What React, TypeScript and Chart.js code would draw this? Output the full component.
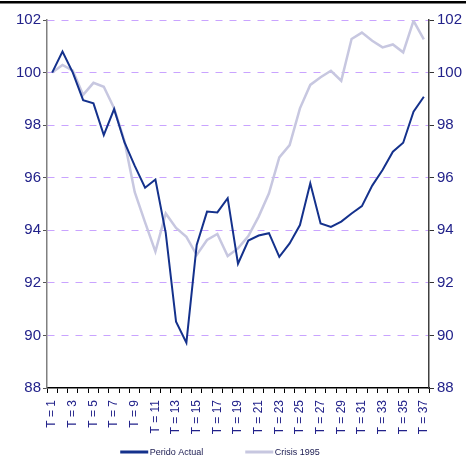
import React, { useEffect, useRef } from 'react';
import { Chart, registerables } from 'chart.js';

Chart.register(...registerables);

const categories = [
  'T = 1', 'T = 2', 'T = 3', 'T = 4', 'T = 5', 'T = 6', 'T = 7', 'T = 8', 'T = 9', 'T = 10',
  'T = 11', 'T = 12', 'T = 13', 'T = 14', 'T = 15', 'T = 16', 'T = 17', 'T = 18', 'T = 19', 'T = 20',
  'T = 21', 'T = 22', 'T = 23', 'T = 24', 'T = 25', 'T = 26', 'T = 27', 'T = 28', 'T = 29', 'T = 30',
  'T = 31', 'T = 32', 'T = 33', 'T = 34', 'T = 35', 'T = 36', 'T = 37',
];

const periodoActual = [
  100.0, 100.8, 100.0, 98.95, 98.83, 97.62, 98.61, 97.35, 96.45, 95.62,
  95.93, 93.9, 90.52, 89.72, 93.44, 94.71, 94.68, 95.22, 92.73, 93.61,
  93.8, 93.89, 92.99, 93.5, 94.2, 95.79, 94.26, 94.13, 94.33, 94.64,
  94.92, 95.7, 96.29, 96.99, 97.33, 98.51, 99.08,
];

const crisis1995 = [
  100.0, 100.29, 100.07, 99.15, 99.61, 99.46, 98.64, 97.4, 95.45, 94.3,
  93.19, 94.64, 94.09, 93.75, 93.06, 93.63, 93.86, 93.02, 93.31, 93.78,
  94.52, 95.41, 96.77, 97.24, 98.64, 99.53, 99.82, 100.07, 99.69, 101.28,
  101.52, 101.21, 100.96, 101.07, 100.77, 101.97, 101.26,
];

const seriesNames = ['Perido Actual', 'Crisis 1995'];
const yTicks = { min: 88, max: 102, step: 2 };

const W = 466;
const H = 456;
const AREA_TOP = 20;
const AREA_LEFT = 47;
const AREA_RIGHT = 429;
const AREA_BOTTOM = 388;
const FONT = "'Liberation Sans', Arial, sans-serif";
const TICK_COLOR = '#22228a';

const LEG_CX = 220;
const LEG_BOX_Y = 452;
const LEG_TEXT_Y = 454.5;
const LEG_BOX_W = 28;
const LEG_TEXT_GAP = 1.5;
const LEG_ITEM_GAP = 42;

const topBar = {
  id: 'topBar',
  afterDraw(chart: any) {
    const ctx = chart.ctx;
    ctx.save();
    ctx.fillStyle = '#000';
    ctx.fillRect(0, 1, chart.width, 2.5);
    ctx.restore();
  },
};

const bottomLegend = {
  id: 'bottomLegend',
  afterDraw(chart: any) {
    const ctx = chart.ctx;
    ctx.save();
    ctx.font = `9px ${FONT}`;
    const items = chart.data.datasets.map((ds: any) => ({
      text: String(ds.label),
      color: ds.borderColor,
    }));
    const widths = items.map((it: any) => LEG_BOX_W + LEG_TEXT_GAP + ctx.measureText(it.text).width);
    const total = widths.reduce((a: number, b: number) => a + b, 0) + LEG_ITEM_GAP * (items.length - 1);
    let x = LEG_CX - total / 2;
    items.forEach((it: any, i: number) => {
      ctx.fillStyle = it.color;
      ctx.fillRect(x, LEG_BOX_Y - 1.5, LEG_BOX_W, 3);
      ctx.fillStyle = '#1a1a50';
      ctx.textAlign = 'left';
      ctx.textBaseline = 'alphabetic';
      ctx.fillText(it.text, x + LEG_BOX_W + LEG_TEXT_GAP, LEG_TEXT_Y);
      x += widths[i] + LEG_ITEM_GAP;
    });
    ctx.restore();
  },
};

export default function App() {
  const ref = useRef<HTMLCanvasElement | null>(null);

  useEffect(() => {
    document.body.style.margin = '0';
    if (!ref.current) return;
    const chart = new Chart(ref.current, {
      type: 'line',
      data: {
        labels: categories,
        datasets: [
          {
            label: seriesNames[0],
            data: periodoActual,
            borderColor: '#14318c',
            backgroundColor: '#14318c',
            borderWidth: 2,
            pointRadius: 0,
            tension: 0,
          },
          {
            label: seriesNames[1],
            data: crisis1995,
            borderColor: '#c7c7e0',
            backgroundColor: '#c7c7e0',
            borderWidth: 2.5,
            pointRadius: 0,
            tension: 0,
          },
        ],
      },
      options: {
        responsive: false,
        animation: false,
        layout: { padding: { top: AREA_TOP, left: 0, right: 0, bottom: 0 } },
        plugins: {
          tooltip: { enabled: false },
          legend: { display: false },
        },
        scales: {
          x: {
            type: 'category',
            offset: true,
            grid: {
              offset: true,
              drawOnChartArea: false,
              tickLength: 5,
              tickColor: '#000',
            },
            border: { color: '#000', width: 1.5 },
            ticks: {
              autoSkip: false,
              maxRotation: 90,
              minRotation: 90,
              padding: 7,
              color: TICK_COLOR,
              font: { family: FONT, size: 12 },
              callback: (_v: any, i: number) => (i % 2 === 0 ? categories[i] : ''),
            },
            afterFit: (s: any) => {
              s.height = H - AREA_BOTTOM;
              s.paddingLeft = 0;
              s.paddingRight = 0;
            },
          },
          y: {
            position: 'left',
            min: yTicks.min,
            max: yTicks.max,
            ticks: {
              stepSize: yTicks.step,
              padding: 2,
              color: TICK_COLOR,
              font: { family: FONT, size: 15 },
            },
            grid: {
              color: (ctx: any) => (ctx.tick && ctx.tick.value === yTicks.min ? 'rgba(0,0,0,0)' : '#c9a3ff'),
              lineWidth: 1,
              tickColor: '#555',
              tickLength: 4,
            },
            border: { color: '#808080', width: 1.5, dash: [7, 7] },
            afterFit: (s: any) => {
              s.width = AREA_LEFT;
              s.paddingTop = 0;
              s.paddingBottom = 0;
            },
          },
          y2: {
            position: 'right',
            min: yTicks.min,
            max: yTicks.max,
            ticks: {
              stepSize: yTicks.step,
              padding: 3,
              color: TICK_COLOR,
              font: { family: FONT, size: 15 },
            },
            grid: {
              drawOnChartArea: false,
              tickColor: '#333',
              tickLength: 5,
            },
            border: { color: '#404040', width: 1.5 },
            afterFit: (s: any) => {
              s.width = W - AREA_RIGHT;
              s.paddingTop = 0;
              s.paddingBottom = 0;
            },
          },
        },
      } as any,
      plugins: [topBar, bottomLegend],
    });
    return () => chart.destroy();
  }, []);

  return (
    <div style={{ width: W, height: H }}>
      <canvas ref={ref} width={W} height={H} style={{ display: 'block' }} />
    </div>
  );
}
